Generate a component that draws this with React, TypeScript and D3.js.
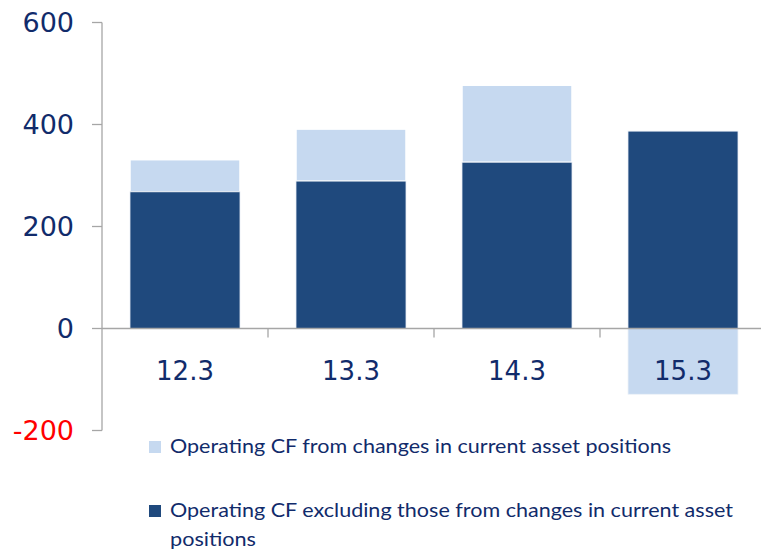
import React from "react";
import * as d3 from "d3";

const categories = ["12.3", "13.3", "14.3", "15.3"];
const excludingValues = [268, 289, 326, 387];
const changesValues = [63, 102, 151, -129];
const yTicks = [-200, 0, 200, 400, 600];
const legendLabels = [
  "Operating CF from changes in current asset positions",
  "Operating CF excluding those from changes in current asset",
  "positions",
];

const W = 761;
const H = 551;
const NAVY = "#112B6B";
const DARK = "#1F497D";
const LIGHT = "#C6D9F0";
const AXIS = "#A6A6A6";

export default function App() {
  const x = d3.scaleBand<string>().domain(categories).range([102, 766]).paddingInner(0).paddingOuter(0);
  const y = d3.scaleLinear().domain([-200, 600]).range([430.5, 22.5]);
  const bw = 110;
  const bx = (c: string) => (x(c) as number) + x.bandwidth() / 2 - bw / 2;

  return (
    <svg width={W} height={H} style={{ position: "absolute", left: 0, top: 0, background: "#fff" }}>
      {/* bars */}
      {categories.map((c, i) => {
        const dk = excludingValues[i];
        const lt = changesValues[i];
        const darkRect = (
          <rect key={"d" + c} x={bx(c)} y={y(dk)} width={bw} height={y(0) - y(dk)} fill={DARK} stroke="#E8EEF5" strokeWidth={0.8} />
        );
        let lightRect;
        if (lt >= 0) {
          lightRect = (
            <rect key={"l" + c} x={bx(c)} y={y(dk + lt)} width={bw} height={y(dk) - y(dk + lt)} fill={LIGHT} stroke="#fff" strokeWidth={1.5} />
          );
        } else {
          lightRect = (
            <rect key={"l" + c} x={bx(c)} y={y(0)} width={bw} height={y(lt) - y(0)} fill={LIGHT} stroke="#EEF2F8" strokeWidth={0.8} />
          );
        }
        return (
          <g key={c}>
            {lightRect}
            {darkRect}
          </g>
        );
      })}
      {/* y axis */}
      <line x1={102} x2={102} y1={y(600)} y2={y(-200)} stroke={AXIS} strokeWidth={1.3} />
      {yTicks.map((t) => (
        <g key={t}>
          <line x1={92} x2={102} y1={y(t)} y2={y(t)} stroke={AXIS} strokeWidth={1.3} />
          <text
            x={74}
            y={y(t)}
            dy="0.36em"
            textAnchor="end"
            fontFamily="DejaVu Sans, Verdana, sans-serif"
            fontSize={27}
            fill={t < 0 ? "#FF0000" : NAVY}
          >
            {t}
          </text>
        </g>
      ))}
      {/* x axis */}
      <line x1={102} x2={W} y1={y(0)} y2={y(0)} stroke={AXIS} strokeWidth={1.5} />
      {categories.slice(1).map((c) => (
        <line key={"t" + c} x1={x(c) as number} x2={x(c) as number} y1={y(0)} y2={y(0) + 9} stroke={AXIS} strokeWidth={1.3} />
      ))}
      {categories.map((c) => (
        <text
          key={"c" + c}
          x={(x(c) as number) + x.bandwidth() / 2}
          y={380}
          textAnchor="middle"
          fontFamily="DejaVu Sans, Verdana, sans-serif"
          fontSize={26}
          fill={NAVY}
        >
          {c}
        </text>
      ))}
      {/* legend */}
      <rect x={149} y={441} width={12} height={12} fill={LIGHT} />
      <text x={170} y={453} fontFamily="Lato, sans-serif" fontSize={19} fill={NAVY} textLength={501} lengthAdjust="spacingAndGlyphs">
        {legendLabels[0]}
      </text>
      <rect x={149} y={505} width={12} height={12} fill={DARK} />
      <text x={170} y={517} fontFamily="Lato, sans-serif" fontSize={19} fill={NAVY} textLength={563} lengthAdjust="spacingAndGlyphs">
        {legendLabels[1]}
      </text>
      <text x={170} y={546} fontFamily="Lato, sans-serif" fontSize={19} fill={NAVY} textLength={86} lengthAdjust="spacingAndGlyphs">
        {legendLabels[2]}
      </text>
    </svg>
  );
}
